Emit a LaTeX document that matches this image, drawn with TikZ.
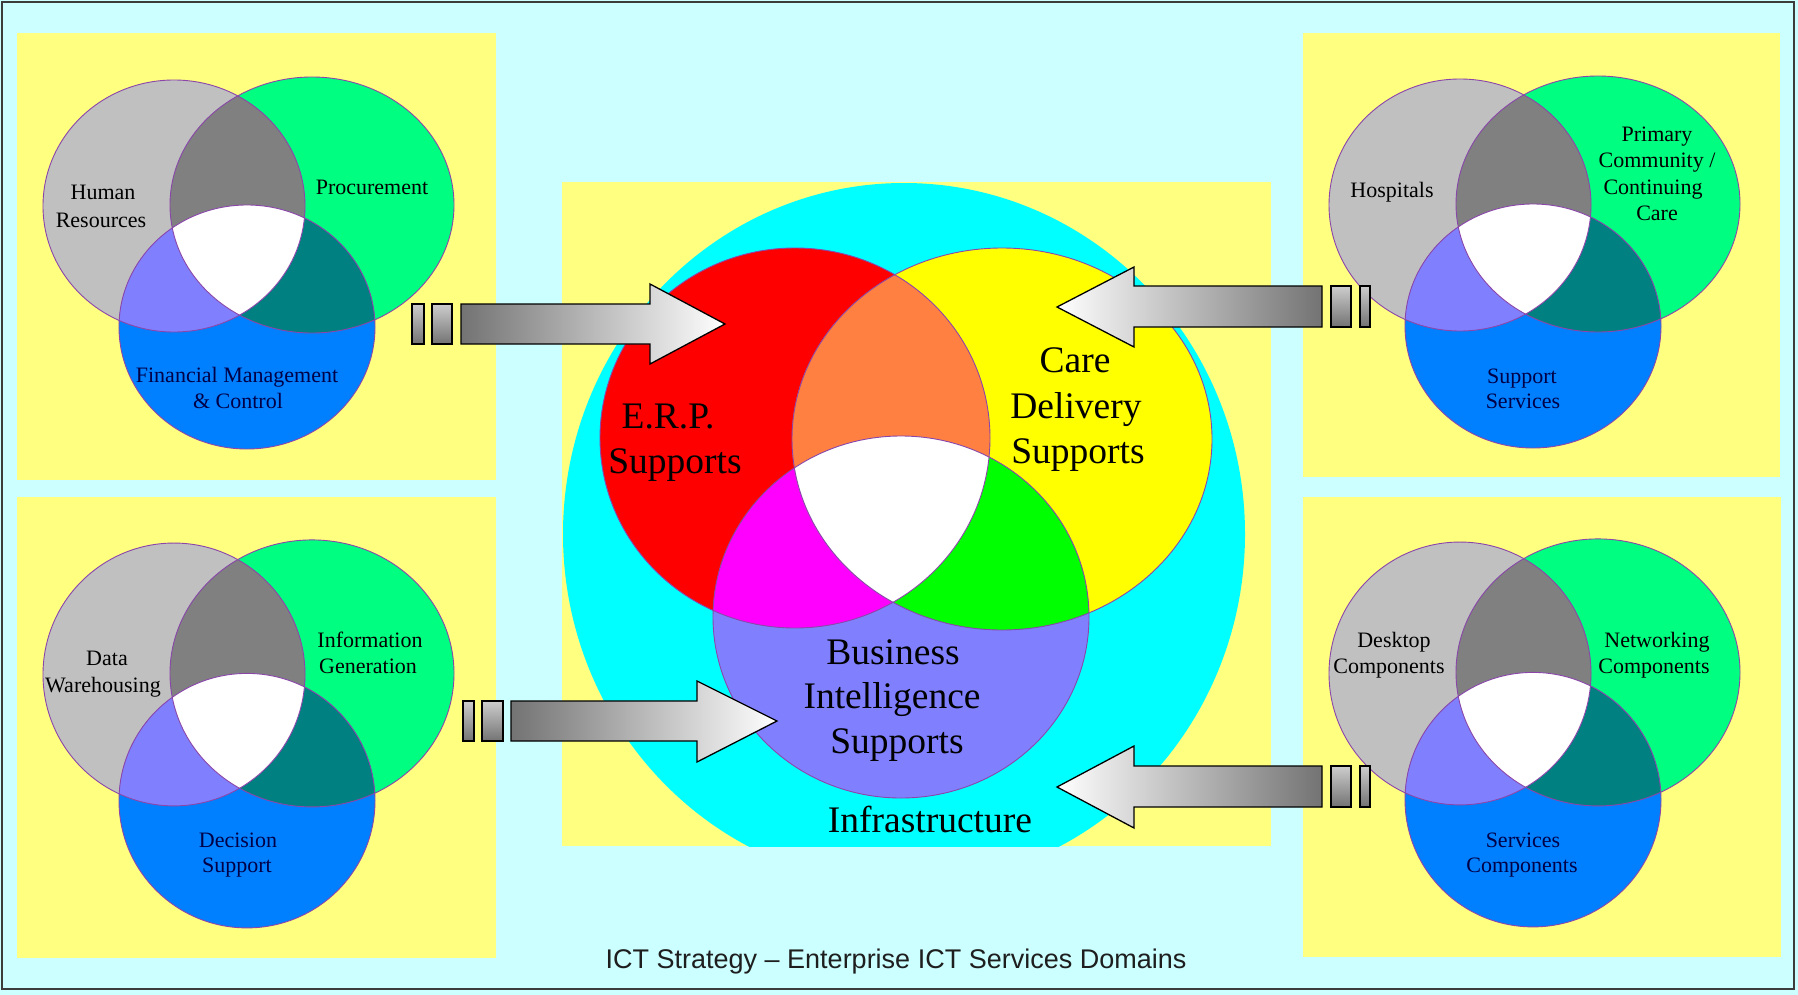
\documentclass[tikz,border=0pt]{standalone}
\usepackage{fontspec}
\setmainfont{Liberation Serif}
\newfontfamily\capfont{Liberation Sans}
\definecolor{bgcyan}{RGB}{204,255,255}
\definecolor{panelyellow}{RGB}{255,255,128}
\definecolor{vgray}{RGB}{192,192,192}
\definecolor{vgreen}{RGB}{0,255,128}
\definecolor{vblue}{RGB}{0,128,255}
\definecolor{vgg}{RGB}{128,128,128}
\definecolor{vgb}{RGB}{128,128,255}
\definecolor{vteal}{RGB}{0,128,128}
\definecolor{vedgecol}{RGB}{140,70,170}
\definecolor{navytext}{RGB}{0,0,70}
\definecolor{ccyan}{RGB}{0,255,255}
\definecolor{cred}{RGB}{255,0,0}
\definecolor{cyel}{RGB}{255,255,0}
\definecolor{cbi}{RGB}{128,128,255}
\definecolor{corange}{RGB}{255,128,64}
\definecolor{cmag}{RGB}{255,0,255}
\definecolor{cgreen}{RGB}{0,255,0}
\definecolor{arrowdark}{RGB}{115,115,115}
\definecolor{barlight}{RGB}{205,205,205}
\definecolor{framecol}{RGB}{60,60,60}
\definecolor{captioncol}{RGB}{30,30,30}
\tikzset{
  sgA/.style={insert path={(174,206) ellipse [x radius=131, y radius=126]}},
  sgB/.style={insert path={(312,205) ellipse [x radius=142, y radius=128]}},
  sgC/.style={insert path={(247,327) ellipse [x radius=128, y radius=122]}},
  ctA/.style={insert path={(795,438) ellipse [x radius=195, y radius=190]}},
  ctB/.style={insert path={(1002,439) ellipse [x radius=210, y radius=191]}},
  ctC/.style={insert path={(901,617) ellipse [x radius=188, y radius=181]}},
  panelbox/.style={fill=panelyellow, draw=none},
  vedge/.style={draw=vedgecol, line width=0.9},
  slabel/.style={font=\fontsize{22}{26}\selectfont, anchor=base, inner sep=0pt, text=black},
  sblabel/.style={slabel, text=navytext},
  clabel/.style={font=\fontsize{37.5}{45}\selectfont, anchor=base, inner sep=0pt, text=black},
  rarrow/.style={draw=black, line width=1.3, left color=arrowdark, right color=white},
  larrow/.style={draw=black, line width=1.3, left color=white, right color=arrowdark},
  arrbar/.style={draw=black, line width=1.3, top color=barlight, bottom color=arrowdark},
}
\newcommand\mySideVenn{%
  \fill[vgray, sgA];
  \fill[vgreen, sgB];
  \fill[vblue, sgC];
  \begin{scope}\path[clip, sgA]; \fill[vgg, sgB];\end{scope}
  \begin{scope}\path[clip, sgA]; \fill[vgb, sgC];\end{scope}
  \begin{scope}\path[clip, sgB]; \fill[vteal, sgC];\end{scope}
  \begin{scope}\path[clip, sgA]; \path[clip, sgB]; \fill[white, sgC];\end{scope}
  \path[vedge, sgA];
  \path[vedge, sgB];
  \path[vedge, sgC];
}
\begin{document}
\begin{tikzpicture}[x=1pt,y=-1pt]
\useasboundingbox (0,0) rectangle (1798,995);
% background and frame
\fill[bgcyan] (0,0) rectangle (1798,995);
\draw[framecol, line width=2] (2,2) rectangle (1794,989);

% panels
\fill[panelbox] (17,33) rectangle (496,480);
\fill[panelbox] (1303,33) rectangle (1780,477);
\fill[panelbox] (17,497) rectangle (496,958);
\fill[panelbox] (1303,497) rectangle (1781,957);
\fill[panelbox] (562,182) rectangle (1271,846);

% side Venn diagrams
\begin{scope}\mySideVenn\end{scope}
\begin{scope}[shift={(1286,-1)}]\mySideVenn\end{scope}
\begin{scope}[shift={(0,459.6)}, yscale=1.043]\mySideVenn\end{scope}
\begin{scope}[shift={(1286,458.6)}, yscale=1.043]\mySideVenn\end{scope}

% central diagram
\begin{scope}
  \clip (562,182) rectangle (1271,846);
  \fill[ccyan] (904,534) ellipse [x radius=341, y radius=351];
\end{scope}
\fill[cred, ctA];
\fill[cyel, ctB];
\fill[cbi, ctC];
\begin{scope}\path[clip, ctA]; \fill[corange, ctB];\end{scope}
\begin{scope}\path[clip, ctA]; \fill[cmag, ctC];\end{scope}
\begin{scope}\path[clip, ctB]; \fill[cgreen, ctC];\end{scope}
\begin{scope}\path[clip, ctA]; \path[clip, ctB]; \fill[white, ctC];\end{scope}
\path[vedge, ctA];
\path[vedge, ctB];
\path[vedge, ctC];

% block arrows
\draw[arrbar] (412,304) rectangle (424,344);
\draw[arrbar] (432,304) rectangle (452,344);
\draw[rarrow] (461,304) -- (650,304) -- (650,284) -- (725,324) -- (650,364) -- (650,344) -- (461,344) -- cycle;

\draw[arrbar] (463,701) rectangle (474,741);
\draw[arrbar] (482,701) rectangle (503,741);
\draw[rarrow] (511,701) -- (697,701) -- (697,681) -- (777,721) -- (697,762) -- (697,741) -- (511,741) -- cycle;

\draw[arrbar] (1331,286) rectangle (1351,327);
\draw[arrbar] (1360,286) rectangle (1370,327);
\draw[larrow] (1322,286) -- (1134,286) -- (1134,267) -- (1057,307) -- (1134,347) -- (1134,327) -- (1322,327) -- cycle;

\draw[arrbar] (1331,766) rectangle (1351,807);
\draw[arrbar] (1360,766) rectangle (1370,807);
\draw[larrow] (1322,766) -- (1134,766) -- (1134,746) -- (1057,787) -- (1134,828) -- (1134,807) -- (1322,807) -- cycle;

% labels: top left
\node[slabel] (hr1) at (103,200) {Human};
\node[slabel] (hr2) at (101,227) {Resources};
\node[slabel] (proc) at (372,195) {Procurement};
\node[sblabel] (fin1) at (237,382) {Financial Management};
\node[sblabel] (fin2) at (238,408) {\& Control};
% top right
\node[slabel] (hosp) at (1392,197) {Hospitals};
\node[slabel] (pc1) at (1657,142) {Primary};
\node[slabel] (pc2) at (1657,168) {Community /};
\node[slabel] (pc3) at (1653,194) {Continuing};
\node[slabel] (pc4) at (1657,220) {Care};
\node[sblabel] (ss1) at (1522,383) {Support};
\node[sblabel] (ss2) at (1523,408) {Services};
% bottom left
\node[slabel] (dw1) at (107,665) {Data};
\node[slabel] (dw2) at (103,692) {Warehousing};
\node[slabel] (ig1) at (370,647) {Information};
\node[slabel] (ig2) at (368,673) {Generation};
\node[sblabel] (ds1) at (238,847) {Decision};
\node[sblabel] (ds2) at (237,872) {Support};
% bottom right
\node[slabel] (dc1) at (1394,647) {Desktop};
\node[slabel] (dc2) at (1389,673) {Components};
\node[slabel] (nc1) at (1657,647) {Networking};
\node[slabel] (nc2) at (1654,673) {Components};
\node[sblabel] (sc1) at (1523,847) {Services};
\node[sblabel] (sc2) at (1522,872) {Components};
% centre
\node[clabel] (erp1) at (668,428) {E.R.P.};
\node[clabel] (erp2) at (675,473) {Supports};
\node[clabel] (cd1) at (1075,372) {Care};
\node[clabel] (cd2) at (1076,418) {Delivery};
\node[clabel] (cd3) at (1078,463) {Supports};
\node[clabel] (bi1) at (893,664) {Business};
\node[clabel] (bi2) at (892,708) {Intelligence};
\node[clabel] (bi3) at (897,753) {Supports};
\node[clabel] (infra) at (930,832) {Infrastructure};
% caption
\node[font=\capfont\fontsize{27}{32}\selectfont, anchor=base, inner sep=0pt, text=captioncol] (cap) at (896,968) {ICT Strategy – Enterprise ICT Services Domains};
\end{tikzpicture}
\end{document}
